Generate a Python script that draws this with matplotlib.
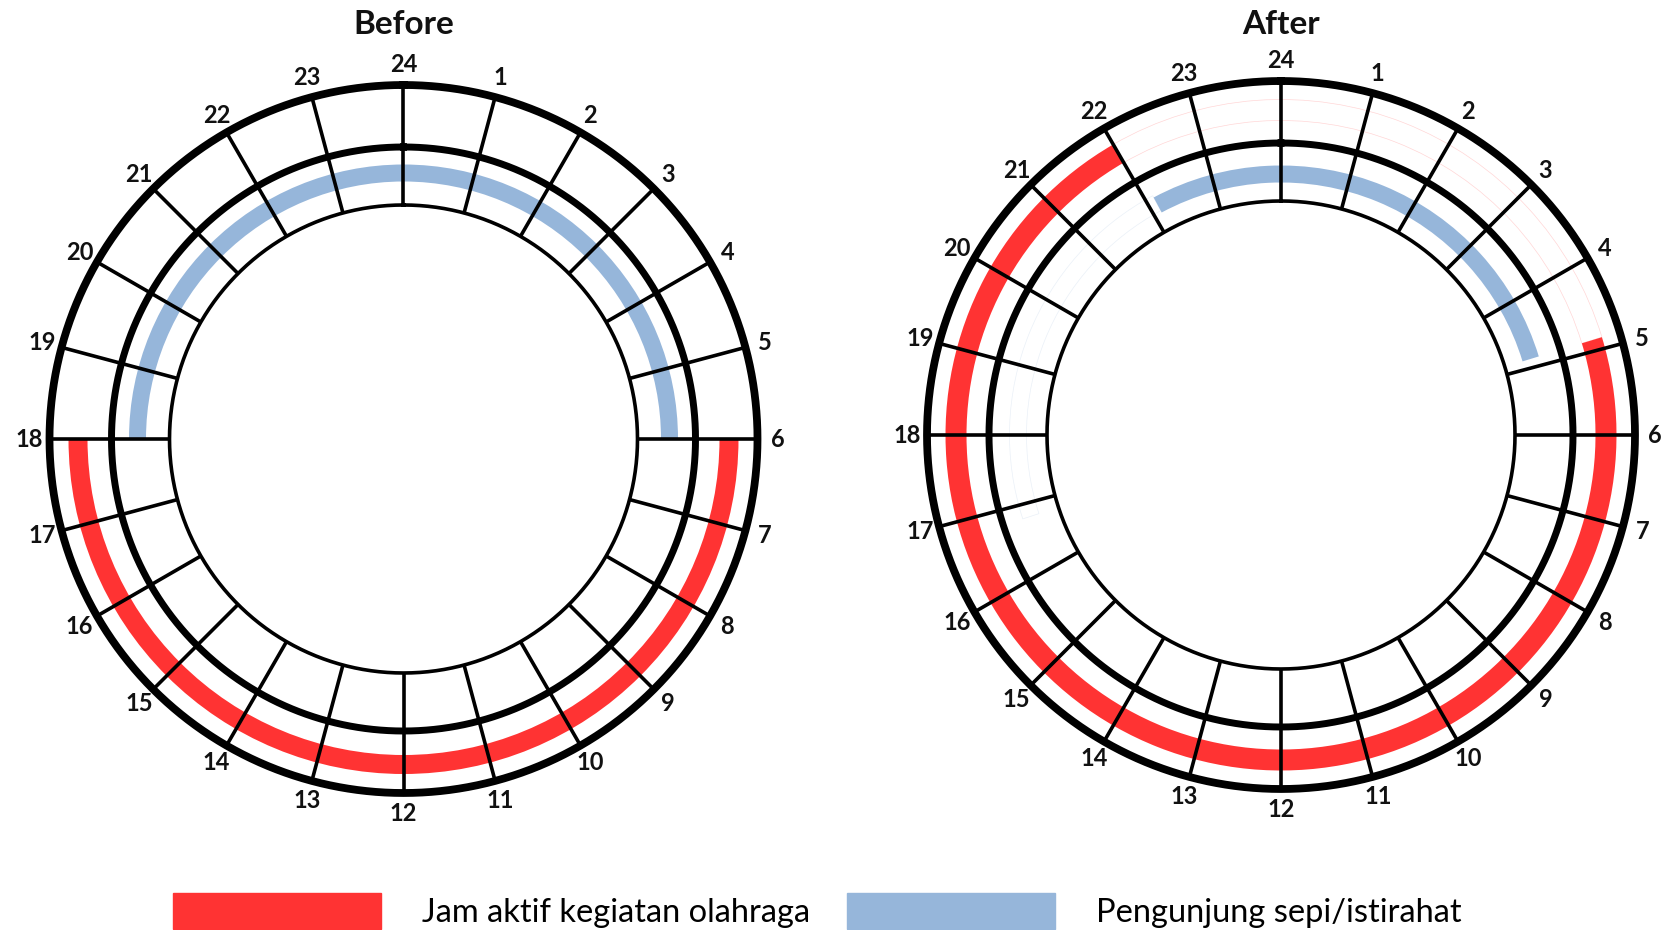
import numpy as np
import matplotlib
matplotlib.use("Agg")
import matplotlib.pyplot as plt
from matplotlib.patches import Patch

plt.rcParams['font.family'] = ['Lato', 'DejaVu Sans']

# hours around the dial (24 at the top, clockwise)
hours = np.arange(1, 25)

# (start hour, end hour) going clockwise
before_active = (6.0, 18.0)
before_quiet = (18.0, 6.0)
after_active = (4.87, 22.0)
after_quiet = (22.12, 4.87)
# faint leftovers visible in the "After" dial
after_active_rest = (22.0, 4.87)
after_quiet_rest = (16.8, 22.12)

titles = ["Before", "After"]
legend_labels = ["Jam aktif kegiatan olahraga", "Pengunjung sepi/istirahat"]

RED = "#FF3333"
BLUE = "#96B6DA"

W, H = 1663, 930
R_AX = 400          # axes radius in pixels, data r == pixels
R_IN, R_MID, R_OUT = 234, 292, 354
R_LAB = 374


def to_theta(h):
    return h / 24 * 2 * np.pi


def span(hrs):
    return ((hrs[1] - hrs[0]) % 24) / 24 * 2 * np.pi


def arc(ax, hrs, r, w, color, faint=False):
    if faint:
        ax.bar(to_theta(hrs[0]), w, width=span(hrs), bottom=r - w / 2, align="edge",
               facecolor="none", edgecolor=color, linewidth=0.5, alpha=0.2, zorder=1)
    else:
        ax.bar(to_theta(hrs[0]), w, width=span(hrs), bottom=r - w / 2, align="edge",
               color=color, linewidth=0, zorder=2)


def dial(cx, cy, title):
    ax = fig.add_axes([(cx - R_AX) / W, (H - cy - R_AX) / H, 2 * R_AX / W, 2 * R_AX / H],
                      projection="polar")
    ax.set_theta_zero_location("N")
    ax.set_theta_direction(-1)
    t = np.linspace(0, 2 * np.pi, 721)
    for r, lw in [(R_OUT, 5.6), (R_MID, 5.0), (R_IN, 2.6)]:
        ax.plot(t, np.full_like(t, r), color="black", lw=lw, zorder=3)
    for h in hours:
        ax.plot([to_theta(h)] * 2, [R_IN, R_OUT], color="black", lw=2.6, zorder=3,
                solid_capstyle="butt")
        ax.text(to_theta(h), R_LAB, str(h), ha="center", va="center", fontsize=17,
                fontweight="bold", color="#111111")
    ax.set_ylim(0, R_AX)
    ax.set_axis_off()
    fig.text(cx / W, 1 - 25 / H, title, ha="center", va="center", fontsize=24,
             fontweight="bold", color="#111111")
    return ax


fig = plt.figure(figsize=(W / 100, H / 100), dpi=100)

ax1 = dial(403.5, 439, titles[0])
arc(ax1, before_active, 325.5, 19, RED)
arc(ax1, before_quiet, 266, 17, BLUE)

ax2 = dial(1281, 435, titles[1])
arc(ax2, after_active_rest, 325, 21, RED, faint=True)
arc(ax2, after_quiet_rest, 263, 17, BLUE, faint=True)
arc(ax2, after_active, 325, 21, RED)
arc(ax2, after_quiet, 261, 17, BLUE)

fs = 23.5
px = fs * 100 / 72
for lab, col, x in [(legend_labels[0], RED, 173), (legend_labels[1], BLUE, 847)]:
    fig.legend(handles=[Patch(color=col, label=lab)], loc="center left",
               bbox_to_anchor=(x / W, 1 - 911 / H), frameon=False, fontsize=fs,
               handlelength=208 / px, handleheight=44 / px,
               handletextpad=41 / px, borderpad=0, borderaxespad=0)

fig.savefig("out.png", dpi=100)
